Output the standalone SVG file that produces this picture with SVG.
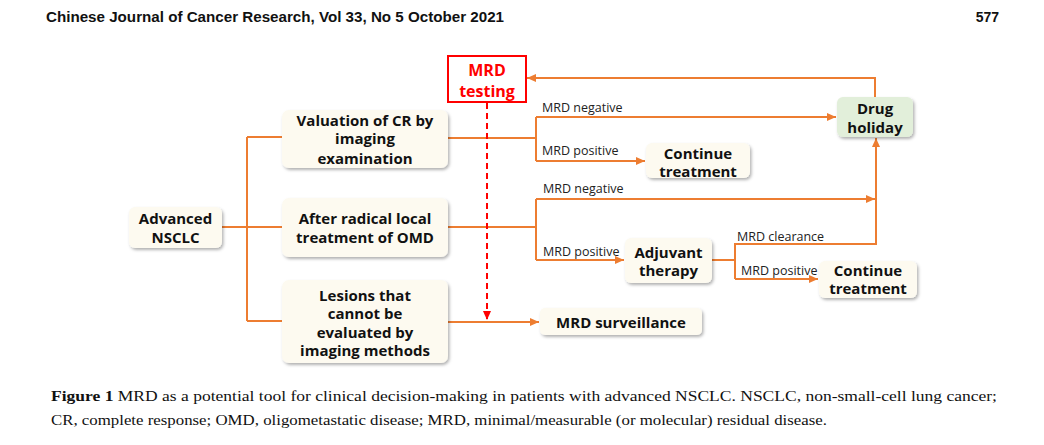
<svg xmlns="http://www.w3.org/2000/svg" width="1044" height="445" viewBox="0 0 1044 445">
<style>
.box{fill:#fdfaf0;filter:url(#sh)}
.nt{font-family:"Open Sans","Noto Sans",sans-serif;font-weight:bold;font-size:15px;fill:#111;text-anchor:middle}
.lb{font-family:"Open Sans","Noto Sans",sans-serif;font-size:12.5px;fill:#222}
.ln{fill:none;stroke:#ed7d31;stroke-width:2}
.hd{font-family:"Liberation Sans",Arial,sans-serif;font-weight:bold;font-size:14px;fill:#111}
.cap{font-family:"Liberation Serif","Times New Roman",serif;font-size:15.5px;fill:#111}
</style>
<defs>
<filter id="sh" x="-10%" y="-10%" width="130%" height="140%">
<feDropShadow dx="1.5" dy="2" stdDeviation="1.5" flood-color="#000" flood-opacity="0.3"/>
</filter>
<marker id="ao" markerUnits="userSpaceOnUse" markerWidth="10" markerHeight="10" refX="9" refY="4" orient="auto">
<path d="M0,0 L9,4 L0,8 Z" fill="#ed7d31"/>
</marker>
<marker id="ar" markerUnits="userSpaceOnUse" markerWidth="10" markerHeight="10" refX="9" refY="4" orient="auto">
<path d="M0,0 L9,4 L0,8 Z" fill="#ff0000"/>
</marker>
</defs>
<rect width="1044" height="445" fill="#fff"/>
<text class="hd" x="46" y="22" textLength="458" lengthAdjust="spacingAndGlyphs">Chinese Journal of Cancer Research, Vol 33, No 5 October 2021</text>
<text class="hd" x="999" y="22" text-anchor="end">577</text>

<g id="connectors">
<path class="ln" d="M222,227 H247 M247,137 V321 M247,137 H282 M247,227 H282 M247,321 H282"/>
<path class="ln" d="M448,138 H536 M536,117 V161"/>
<path class="ln" d="M536,117 H836" marker-end="url(#ao)"/>
<path class="ln" d="M536,161 H645" marker-end="url(#ao)"/>
<path class="ln" d="M875,97 V78 H527" marker-end="url(#ao)"/>
<path class="ln" d="M448,227 H536 M536,199 V260"/>
<path class="ln" d="M536,199 H875" marker-end="url(#ao)"/>
<path class="ln" d="M876,245 V138" marker-end="url(#ao)"/>
<path class="ln" d="M536,260 H624" marker-end="url(#ao)"/>
<path class="ln" d="M712,260 H735 M735,279 V244 H877"/>
<path class="ln" d="M735,279 H818" marker-end="url(#ao)"/>
<path class="ln" d="M448,322 H539" marker-end="url(#ao)"/>
<path d="M487,103 V320" fill="none" stroke="#ff0000" stroke-width="2" stroke-dasharray="6,4" marker-end="url(#ar)"/>
<text class="lb" x="542" y="112">MRD negative</text>
<text class="lb" x="542" y="155">MRD positive</text>
<text class="lb" x="543" y="193">MRD negative</text>
<text class="lb" x="543" y="256">MRD positive</text>
<text class="lb" x="737" y="241">MRD clearance</text>
<text class="lb" x="741" y="275">MRD positive</text>
</g>

<g id="advanced">
<rect class="box" x="129" y="207" width="93" height="41" rx="6"/>
<text class="nt" x="175.5" y="223.5">Advanced</text>
<text class="nt" x="175.5" y="243">NSCLC</text>
</g>
<g id="valuation">
<rect class="box" x="282" y="110" width="166" height="58" rx="7"/>
<text class="nt" x="365" y="125.5">Valuation of CR by</text>
<text class="nt" x="365" y="144">imaging</text>
<text class="nt" x="365" y="163.5">examination</text>
</g>
<g id="after">
<rect class="box" x="282" y="198" width="166" height="59" rx="7"/>
<text class="nt" x="365" y="223.5">After radical local</text>
<text class="nt" x="365" y="242.5">treatment of OMD</text>
</g>
<g id="lesions">
<rect class="box" x="282" y="280" width="166" height="83" rx="7"/>
<text class="nt" x="365" y="300.5">Lesions that</text>
<text class="nt" x="365" y="318.5">cannot be</text>
<text class="nt" x="365" y="337.5">evaluated by</text>
<text class="nt" x="365" y="355.5">imaging methods</text>
</g>
<g id="mrd-testing">
<rect x="448" y="56" width="78" height="46" fill="#fff" stroke="#ff0000" stroke-width="2"/>
<text class="nt" x="487" y="76" style="fill:#ff0000;font-size:16px">MRD</text>
<text class="nt" x="487" y="96.5" style="fill:#ff0000;font-size:16px">testing</text>
</g>
<g id="drug-holiday">
<rect class="box" x="837" y="97" width="76" height="40" rx="6" style="fill:#e2efda"/>
<text class="nt" x="875" y="113.5">Drug</text>
<text class="nt" x="875" y="132.5">holiday</text>
</g>
<g id="continue1">
<rect class="box" x="646" y="143" width="104" height="35" rx="6"/>
<text class="nt" x="698" y="158.5">Continue</text>
<text class="nt" x="698" y="176.5">treatment</text>
</g>
<g id="adjuvant">
<rect class="box" x="625" y="238" width="87" height="45" rx="6"/>
<text class="nt" x="668.5" y="257.5">Adjuvant</text>
<text class="nt" x="668.5" y="275.5">therapy</text>
</g>
<g id="continue2">
<rect class="box" x="819" y="261" width="98" height="37" rx="6"/>
<text class="nt" x="868" y="275.5">Continue</text>
<text class="nt" x="868" y="293.5">treatment</text>
</g>
<g id="surveillance">
<rect class="box" x="540" y="308" width="162" height="27" rx="5"/>
<text class="nt" x="621" y="327.5">MRD surveillance</text>
</g>

<text class="cap" x="51" y="401" textLength="946" lengthAdjust="spacingAndGlyphs"><tspan font-weight="bold">Figure 1</tspan> MRD as a potential tool for clinical decision-making in patients with advanced NSCLC. NSCLC, non-small-cell lung cancer;</text>
<text class="cap" x="51" y="425" textLength="776" lengthAdjust="spacingAndGlyphs">CR, complete response; OMD, oligometastatic disease; MRD, minimal/measurable (or molecular) residual disease.</text>
</svg>
